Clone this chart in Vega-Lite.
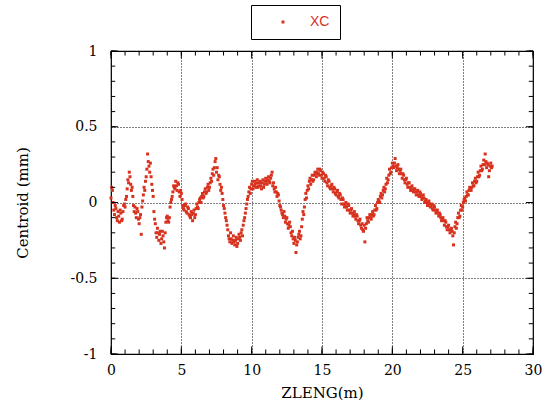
{"$schema":"https://vega.github.io/schema/vega-lite/v6.json","width":422,"height":303,"autosize":{"type":"none"},"padding":{"left":111,"top":51,"right":19,"bottom":54},"background":"white","config":{"view":{"stroke":"black","strokeWidth":1.2}},
"datasets":{
"xminor":[{"t":0},{"t":1},{"t":2},{"t":3},{"t":4},{"t":5},{"t":6},{"t":7},{"t":8},{"t":9},{"t":10},{"t":11},{"t":12},{"t":13},{"t":14},{"t":15},{"t":16},{"t":17},{"t":18},{"t":19},{"t":20},{"t":21},{"t":22},{"t":23},{"t":24},{"t":25},{"t":26},{"t":27},{"t":28},{"t":29},{"t":30}],
"xmajor":[{"t":0},{"t":5},{"t":10},{"t":15},{"t":20},{"t":25},{"t":30}],
"yminor":[{"t":-1},{"t":-0.9},{"t":-0.8},{"t":-0.7},{"t":-0.6},{"t":-0.5},{"t":-0.4},{"t":-0.3},{"t":-0.2},{"t":-0.1},{"t":0},{"t":0.1},{"t":0.2},{"t":0.3},{"t":0.4},{"t":0.5},{"t":0.6},{"t":0.7},{"t":0.8},{"t":0.9},{"t":1}],
"ymajor":[{"t":-1},{"t":-0.5},{"t":0},{"t":0.5},{"t":1}]
},
"layer":[
{"data":{"values":[
{"z":0.0,"xc":0.03},{"z":0.05,"xc":0.1},{"z":0.1,"xc":0.08},{"z":0.2,"xc":-0.05},{"z":0.3,"xc":-0.02},{"z":0.4,"xc":-0.1},{"z":0.5,"xc":-0.06},{"z":0.6,"xc":-0.13},{"z":0.7,"xc":-0.07},{"z":0.8,"xc":-0.11},{"z":0.9,"xc":-0.02},
{"z":1.0,"xc":-0.03},{"z":1.1,"xc":0.04},{"z":1.2,"xc":0.15},{"z":1.3,"xc":0.2},{"z":1.4,"xc":0.12},{"z":1.5,"xc":0.1},{"z":1.6,"xc":-0.02},{"z":1.7,"xc":-0.03},{"z":1.8,"xc":-0.1},{"z":1.9,"xc":-0.06},
{"z":2.0,"xc":-0.14},{"z":2.1,"xc":-0.08},{"z":2.15,"xc":-0.21},{"z":2.2,"xc":-0.03},{"z":2.3,"xc":0.05},{"z":2.4,"xc":0.08},{"z":2.5,"xc":0.17},{"z":2.6,"xc":0.32},{"z":2.7,"xc":0.24},{"z":2.8,"xc":0.26},{"z":2.9,"xc":0.12},
{"z":3.0,"xc":0.04},{"z":3.1,"xc":-0.11},{"z":3.2,"xc":-0.2},{"z":3.3,"xc":-0.17},{"z":3.4,"xc":-0.25},{"z":3.5,"xc":-0.19},{"z":3.6,"xc":-0.24},{"z":3.7,"xc":-0.22},{"z":3.8,"xc":-0.3},{"z":3.9,"xc":-0.13},
{"z":4.0,"xc":-0.09},{"z":4.1,"xc":-0.13},{"z":4.2,"xc":-0.03},{"z":4.3,"xc":0.02},{"z":4.4,"xc":0.07},{"z":4.5,"xc":0.1},{"z":4.6,"xc":0.14},{"z":4.7,"xc":0.08},{"z":4.8,"xc":0.12},{"z":4.9,"xc":0.04},
{"z":5.0,"xc":0.06},{"z":5.1,"xc":-0.02},{"z":5.2,"xc":-0.05},{"z":5.3,"xc":-0.01},{"z":5.4,"xc":-0.07},{"z":5.5,"xc":-0.04},{"z":5.6,"xc":-0.09},{"z":5.7,"xc":-0.06},{"z":5.8,"xc":-0.12},{"z":5.9,"xc":-0.05},
{"z":6.0,"xc":-0.08},{"z":6.1,"xc":-0.01},{"z":6.2,"xc":-0.04},{"z":6.3,"xc":0.02},{"z":6.4,"xc":0.0},{"z":6.5,"xc":0.06},{"z":6.6,"xc":0.04},{"z":6.7,"xc":0.09},{"z":6.8,"xc":0.07},{"z":6.9,"xc":0.12},
{"z":7.0,"xc":0.1},{"z":7.1,"xc":0.16},{"z":7.2,"xc":0.19},{"z":7.3,"xc":0.18},{"z":7.4,"xc":0.27},{"z":7.45,"xc":0.29},{"z":7.5,"xc":0.2},{"z":7.6,"xc":0.15},{"z":7.7,"xc":0.17},{"z":7.8,"xc":0.08},{"z":7.9,"xc":0.06},
{"z":8.0,"xc":-0.02},{"z":8.1,"xc":-0.07},{"z":8.2,"xc":-0.12},{"z":8.3,"xc":-0.18},{"z":8.4,"xc":-0.24},{"z":8.5,"xc":-0.2},{"z":8.6,"xc":-0.27},{"z":8.7,"xc":-0.22},{"z":8.8,"xc":-0.28},{"z":8.9,"xc":-0.23},
{"z":9.0,"xc":-0.27},{"z":9.1,"xc":-0.21},{"z":9.2,"xc":-0.25},{"z":9.3,"xc":-0.18},{"z":9.4,"xc":-0.15},{"z":9.5,"xc":-0.1},{"z":9.6,"xc":-0.04},{"z":9.7,"xc":0.02},{"z":9.8,"xc":0.07},{"z":9.9,"xc":0.06},
{"z":10.0,"xc":0.12},{"z":10.1,"xc":0.09},{"z":10.2,"xc":0.14},{"z":10.3,"xc":0.1},{"z":10.4,"xc":0.15},{"z":10.5,"xc":0.11},{"z":10.6,"xc":0.14},{"z":10.7,"xc":0.09},{"z":10.8,"xc":0.15},{"z":10.9,"xc":0.12},
{"z":11.0,"xc":0.16},{"z":11.1,"xc":0.12},{"z":11.2,"xc":0.17},{"z":11.3,"xc":0.13},{"z":11.4,"xc":0.18},{"z":11.45,"xc":0.2},{"z":11.5,"xc":0.11},{"z":11.6,"xc":0.09},{"z":11.7,"xc":0.1},{"z":11.8,"xc":0.04},{"z":11.9,"xc":0.05},
{"z":12.0,"xc":-0.02},{"z":12.1,"xc":-0.05},{"z":12.2,"xc":-0.08},{"z":12.3,"xc":-0.06},{"z":12.4,"xc":-0.13},{"z":12.5,"xc":-0.1},{"z":12.6,"xc":-0.17},{"z":12.7,"xc":-0.13},{"z":12.8,"xc":-0.2},{"z":12.9,"xc":-0.19},
{"z":13.0,"xc":-0.27},{"z":13.1,"xc":-0.25},{"z":13.15,"xc":-0.33},{"z":13.2,"xc":-0.28},{"z":13.3,"xc":-0.23},{"z":13.4,"xc":-0.19},{"z":13.5,"xc":-0.22},{"z":13.6,"xc":-0.11},{"z":13.7,"xc":-0.08},{"z":13.8,"xc":0.02},{"z":13.9,"xc":0.03},
{"z":14.0,"xc":0.11},{"z":14.1,"xc":0.14},{"z":14.2,"xc":0.12},{"z":14.3,"xc":0.18},{"z":14.4,"xc":0.15},{"z":14.5,"xc":0.2},{"z":14.6,"xc":0.17},{"z":14.7,"xc":0.22},{"z":14.8,"xc":0.18},{"z":14.9,"xc":0.21},
{"z":15.0,"xc":0.16},{"z":15.1,"xc":0.19},{"z":15.2,"xc":0.14},{"z":15.3,"xc":0.17},{"z":15.4,"xc":0.11},{"z":15.5,"xc":0.14},{"z":15.6,"xc":0.09},{"z":15.7,"xc":0.12},{"z":15.8,"xc":0.07},{"z":15.9,"xc":0.09},
{"z":16.0,"xc":0.05},{"z":16.1,"xc":0.08},{"z":16.2,"xc":0.03},{"z":16.3,"xc":0.05},{"z":16.4,"xc":-0.01},{"z":16.5,"xc":0.02},{"z":16.6,"xc":-0.03},{"z":16.7,"xc":0.0},{"z":16.8,"xc":-0.05},{"z":16.9,"xc":-0.02},
{"z":17.0,"xc":-0.07},{"z":17.1,"xc":-0.04},{"z":17.2,"xc":-0.09},{"z":17.3,"xc":-0.06},{"z":17.4,"xc":-0.11},{"z":17.5,"xc":-0.09},{"z":17.6,"xc":-0.14},{"z":17.7,"xc":-0.11},{"z":17.8,"xc":-0.17},{"z":17.9,"xc":-0.18},
{"z":18.0,"xc":-0.15},{"z":18.05,"xc":-0.26},{"z":18.1,"xc":-0.17},{"z":18.2,"xc":-0.1},{"z":18.3,"xc":-0.13},{"z":18.4,"xc":-0.08},{"z":18.5,"xc":-0.11},{"z":18.6,"xc":-0.06},{"z":18.7,"xc":-0.08},{"z":18.8,"xc":-0.02},{"z":18.9,"xc":-0.04},
{"z":19.0,"xc":0.02},{"z":19.1,"xc":0.0},{"z":19.2,"xc":0.06},{"z":19.3,"xc":0.05},{"z":19.4,"xc":0.1},{"z":19.5,"xc":0.09},{"z":19.6,"xc":0.16},{"z":19.7,"xc":0.15},{"z":19.8,"xc":0.22},{"z":19.9,"xc":0.2},
{"z":20.0,"xc":0.26},{"z":20.1,"xc":0.23},{"z":20.2,"xc":0.29},{"z":20.3,"xc":0.21},{"z":20.4,"xc":0.25},{"z":20.5,"xc":0.19},{"z":20.6,"xc":0.22},{"z":20.7,"xc":0.16},{"z":20.8,"xc":0.18},{"z":20.9,"xc":0.13},
{"z":21.0,"xc":0.16},{"z":21.1,"xc":0.1},{"z":21.2,"xc":0.13},{"z":21.3,"xc":0.08},{"z":21.4,"xc":0.11},{"z":21.5,"xc":0.07},{"z":21.6,"xc":0.09},{"z":21.7,"xc":0.05},{"z":21.8,"xc":0.08},{"z":21.9,"xc":0.04},
{"z":22.0,"xc":0.06},{"z":22.1,"xc":0.02},{"z":22.2,"xc":0.05},{"z":22.3,"xc":0.0},{"z":22.4,"xc":0.02},{"z":22.5,"xc":-0.02},{"z":22.6,"xc":0.01},{"z":22.7,"xc":-0.03},{"z":22.8,"xc":-0.01},{"z":22.9,"xc":-0.05},
{"z":23.0,"xc":-0.03},{"z":23.1,"xc":-0.07},{"z":23.2,"xc":-0.05},{"z":23.3,"xc":-0.09},{"z":23.4,"xc":-0.08},{"z":23.5,"xc":-0.12},{"z":23.6,"xc":-0.1},{"z":23.7,"xc":-0.15},{"z":23.8,"xc":-0.13},{"z":23.9,"xc":-0.18},
{"z":24.0,"xc":-0.15},{"z":24.1,"xc":-0.2},{"z":24.2,"xc":-0.17},{"z":24.3,"xc":-0.22},{"z":24.35,"xc":-0.28},{"z":24.4,"xc":-0.2},{"z":24.5,"xc":-0.13},{"z":24.6,"xc":-0.14},{"z":24.7,"xc":-0.07},{"z":24.8,"xc":-0.09},{"z":24.9,"xc":-0.02},
{"z":25.0,"xc":-0.03},{"z":25.1,"xc":0.02},{"z":25.2,"xc":0.01},{"z":25.3,"xc":0.07},{"z":25.4,"xc":0.05},{"z":25.5,"xc":0.1},{"z":25.6,"xc":0.08},{"z":25.7,"xc":0.13},{"z":25.8,"xc":0.11},{"z":25.9,"xc":0.16},
{"z":26.0,"xc":0.14},{"z":26.1,"xc":0.2},{"z":26.2,"xc":0.18},{"z":26.3,"xc":0.24},{"z":26.4,"xc":0.22},{"z":26.5,"xc":0.28},{"z":26.6,"xc":0.32},{"z":26.7,"xc":0.23},{"z":26.8,"xc":0.25},{"z":26.85,"xc":0.17},{"z":26.9,"xc":0.21},
{"z":27.0,"xc":0.26},{"z":27.1,"xc":0.24},
{"z":0.15,"xc":0.0},{"z":0.25,"xc":-0.08},{"z":0.35,"xc":-0.04},{"z":0.45,"xc":-0.12},{"z":0.55,"xc":-0.09},{"z":0.65,"xc":-0.05},{"z":0.75,"xc":-0.12},{"z":0.85,"xc":-0.06},{"z":0.95,"xc":-0.01},
{"z":1.05,"xc":0.02},{"z":1.15,"xc":0.09},{"z":1.25,"xc":0.13},{"z":1.35,"xc":0.17},{"z":1.45,"xc":0.08},{"z":1.55,"xc":0.04},{"z":1.65,"xc":-0.06},{"z":1.75,"xc":-0.07},{"z":1.85,"xc":-0.04},{"z":1.95,"xc":-0.11},
{"z":2.05,"xc":-0.1},{"z":2.25,"xc":0.01},{"z":2.35,"xc":0.1},{"z":2.45,"xc":0.14},{"z":2.55,"xc":0.22},{"z":2.65,"xc":0.27},{"z":2.75,"xc":0.2},{"z":2.85,"xc":0.17},{"z":2.95,"xc":0.08},
{"z":3.05,"xc":-0.06},{"z":3.15,"xc":-0.14},{"z":3.25,"xc":-0.23},{"z":3.35,"xc":-0.2},{"z":3.45,"xc":-0.21},{"z":3.55,"xc":-0.27},{"z":3.65,"xc":-0.19},{"z":3.75,"xc":-0.26},{"z":3.85,"xc":-0.2},{"z":3.95,"xc":-0.1},
{"z":4.05,"xc":-0.12},{"z":4.15,"xc":-0.1},{"z":4.25,"xc":0.0},{"z":4.35,"xc":0.04},{"z":4.45,"xc":0.11},{"z":4.55,"xc":0.09},{"z":4.65,"xc":0.11},{"z":4.75,"xc":0.13},{"z":4.85,"xc":0.07},{"z":4.95,"xc":0.08},
{"z":5.05,"xc":0.02},{"z":5.15,"xc":-0.04},{"z":5.25,"xc":-0.02},{"z":5.35,"xc":-0.06},{"z":5.45,"xc":-0.03},{"z":5.55,"xc":-0.08},{"z":5.65,"xc":-0.1},{"z":5.75,"xc":-0.08},{"z":5.85,"xc":-0.07},{"z":5.95,"xc":-0.1},
{"z":6.05,"xc":-0.04},{"z":6.15,"xc":-0.03},{"z":6.25,"xc":0.0},{"z":6.35,"xc":0.03},{"z":6.45,"xc":0.04},{"z":6.55,"xc":0.03},{"z":6.65,"xc":0.07},{"z":6.75,"xc":0.06},{"z":6.85,"xc":0.1},{"z":6.95,"xc":0.08},
{"z":7.05,"xc":0.13},{"z":7.15,"xc":0.14},{"z":7.25,"xc":0.22},{"z":7.35,"xc":0.23},{"z":7.55,"xc":0.23},{"z":7.65,"xc":0.18},{"z":7.75,"xc":0.12},{"z":7.85,"xc":0.1},{"z":7.95,"xc":0.02},
{"z":8.05,"xc":-0.04},{"z":8.15,"xc":-0.1},{"z":8.25,"xc":-0.15},{"z":8.35,"xc":-0.22},{"z":8.45,"xc":-0.26},{"z":8.55,"xc":-0.24},{"z":8.65,"xc":-0.25},{"z":8.75,"xc":-0.26},{"z":8.85,"xc":-0.25},{"z":8.95,"xc":-0.29},
{"z":9.05,"xc":-0.24},{"z":9.15,"xc":-0.23},{"z":9.25,"xc":-0.2},{"z":9.35,"xc":-0.22},{"z":9.45,"xc":-0.12},{"z":9.55,"xc":-0.07},{"z":9.65,"xc":-0.01},{"z":9.75,"xc":0.04},{"z":9.85,"xc":0.1},{"z":9.95,"xc":0.09},
{"z":10.05,"xc":0.14},{"z":10.15,"xc":0.11},{"z":10.25,"xc":0.12},{"z":10.35,"xc":0.13},{"z":10.45,"xc":0.1},{"z":10.55,"xc":0.13},{"z":10.65,"xc":0.11},{"z":10.75,"xc":0.13},{"z":10.85,"xc":0.1},{"z":10.95,"xc":0.14},
{"z":11.05,"xc":0.14},{"z":11.15,"xc":0.15},{"z":11.25,"xc":0.14},{"z":11.35,"xc":0.16},{"z":11.55,"xc":0.13},{"z":11.65,"xc":0.07},{"z":11.75,"xc":0.07},{"z":11.85,"xc":0.06},{"z":11.95,"xc":0.01},
{"z":12.05,"xc":-0.03},{"z":12.15,"xc":-0.07},{"z":12.25,"xc":-0.1},{"z":12.35,"xc":-0.09},{"z":12.45,"xc":-0.11},{"z":12.55,"xc":-0.14},{"z":12.65,"xc":-0.15},{"z":12.75,"xc":-0.16},{"z":12.85,"xc":-0.22},{"z":12.95,"xc":-0.24},
{"z":13.05,"xc":-0.23},{"z":13.25,"xc":-0.26},{"z":13.35,"xc":-0.21},{"z":13.45,"xc":-0.24},{"z":13.55,"xc":-0.16},{"z":13.65,"xc":-0.06},{"z":13.75,"xc":-0.03},{"z":13.85,"xc":0.06},{"z":13.95,"xc":0.08},
{"z":14.05,"xc":0.09},{"z":14.15,"xc":0.16},{"z":14.25,"xc":0.15},{"z":14.35,"xc":0.14},{"z":14.45,"xc":0.18},{"z":14.55,"xc":0.19},{"z":14.65,"xc":0.2},{"z":14.75,"xc":0.19},{"z":14.85,"xc":0.22},{"z":14.95,"xc":0.18},
{"z":15.05,"xc":0.2},{"z":15.15,"xc":0.16},{"z":15.25,"xc":0.18},{"z":15.35,"xc":0.13},{"z":15.45,"xc":0.15},{"z":15.55,"xc":0.1},{"z":15.65,"xc":0.11},{"z":15.75,"xc":0.09},{"z":15.85,"xc":0.1},{"z":15.95,"xc":0.06},
{"z":16.05,"xc":0.07},{"z":16.15,"xc":0.04},{"z":16.25,"xc":0.06},{"z":16.35,"xc":0.02},{"z":16.45,"xc":0.03},{"z":16.55,"xc":-0.01},{"z":16.65,"xc":-0.02},{"z":16.75,"xc":-0.03},{"z":16.85,"xc":-0.01},{"z":16.95,"xc":-0.05},
{"z":17.05,"xc":-0.05},{"z":17.15,"xc":-0.07},{"z":17.25,"xc":-0.08},{"z":17.35,"xc":-0.09},{"z":17.45,"xc":-0.08},{"z":17.55,"xc":-0.12},{"z":17.65,"xc":-0.12},{"z":17.75,"xc":-0.15},{"z":17.85,"xc":-0.14},{"z":17.95,"xc":-0.19},
{"z":18.15,"xc":-0.14},{"z":18.25,"xc":-0.12},{"z":18.35,"xc":-0.1},{"z":18.45,"xc":-0.1},{"z":18.55,"xc":-0.08},{"z":18.65,"xc":-0.09},{"z":18.75,"xc":-0.05},{"z":18.85,"xc":-0.05},{"z":18.95,"xc":0.0},
{"z":19.05,"xc":0.01},{"z":19.15,"xc":0.04},{"z":19.25,"xc":0.03},{"z":19.35,"xc":0.08},{"z":19.45,"xc":0.07},{"z":19.55,"xc":0.12},{"z":19.65,"xc":0.13},{"z":19.75,"xc":0.18},{"z":19.85,"xc":0.19},{"z":19.95,"xc":0.23},
{"z":20.05,"xc":0.24},{"z":20.15,"xc":0.26},{"z":20.25,"xc":0.24},{"z":20.35,"xc":0.23},{"z":20.45,"xc":0.22},{"z":20.55,"xc":0.21},{"z":20.65,"xc":0.19},{"z":20.75,"xc":0.19},{"z":20.85,"xc":0.15},{"z":20.95,"xc":0.15},
{"z":21.05,"xc":0.12},{"z":21.15,"xc":0.13},{"z":21.25,"xc":0.1},{"z":21.35,"xc":0.1},{"z":21.45,"xc":0.08},{"z":21.55,"xc":0.09},{"z":21.65,"xc":0.07},{"z":21.75,"xc":0.07},{"z":21.85,"xc":0.05},{"z":21.95,"xc":0.07},
{"z":22.05,"xc":0.04},{"z":22.15,"xc":0.03},{"z":22.25,"xc":0.03},{"z":22.35,"xc":0.01},{"z":22.45,"xc":0.0},{"z":22.55,"xc":0.0},{"z":22.65,"xc":-0.01},{"z":22.75,"xc":-0.02},{"z":22.85,"xc":-0.04},{"z":22.95,"xc":-0.02},
{"z":23.05,"xc":-0.05},{"z":23.15,"xc":-0.06},{"z":23.25,"xc":-0.07},{"z":23.35,"xc":-0.07},{"z":23.45,"xc":-0.1},{"z":23.55,"xc":-0.11},{"z":23.65,"xc":-0.12},{"z":23.75,"xc":-0.12},{"z":23.85,"xc":-0.16},{"z":23.95,"xc":-0.16},
{"z":24.05,"xc":-0.18},{"z":24.15,"xc":-0.18},{"z":24.25,"xc":-0.19},{"z":24.45,"xc":-0.16},{"z":24.55,"xc":-0.17},{"z":24.65,"xc":-0.1},{"z":24.75,"xc":-0.1},{"z":24.85,"xc":-0.05},{"z":24.95,"xc":-0.05},
{"z":25.05,"xc":0.0},{"z":25.15,"xc":0.03},{"z":25.25,"xc":0.04},{"z":25.35,"xc":0.05},{"z":25.45,"xc":0.08},{"z":25.55,"xc":0.09},{"z":25.65,"xc":0.1},{"z":25.75,"xc":0.11},{"z":25.85,"xc":0.14},{"z":25.95,"xc":0.13},
{"z":26.05,"xc":0.17},{"z":26.15,"xc":0.17},{"z":26.25,"xc":0.21},{"z":26.35,"xc":0.21},{"z":26.45,"xc":0.25},{"z":26.55,"xc":0.25},{"z":26.65,"xc":0.27},{"z":26.75,"xc":0.26},{"z":26.95,"xc":0.24},{"z":27.05,"xc":0.23}
]},
"mark":{"type":"square","size":9,"opacity":1},
"encoding":{
"x":{"field":"z","type":"quantitative","scale":{"domain":[0,30],"nice":false},"axis":{"orient":"bottom","values":[0,5,10,15,20,25,30],"labelFlush":false,"grid":true,"gridColor":"black","gridDash":[1,2],"gridOpacity":1,"ticks":false,"domain":false,"labelPadding":9,"labelFont":"DejaVu Serif","labelFontSize":14,"labelColor":"black","title":"ZLENG(m)","titleFont":"DejaVu Serif","titleFontSize":15,"titleFontWeight":"normal","titleColor":"black","titlePadding":8}},
"y":{"field":"xc","type":"quantitative","scale":{"domain":[-1,1],"nice":false},"axis":{"orient":"left","values":[-1,-0.5,0,0.5,1],"labelExpr":"'' + datum.value","labelFlush":false,"grid":true,"gridColor":"black","gridDash":[1,2],"gridOpacity":1,"ticks":false,"domain":false,"labelPadding":14,"labelFont":"DejaVu Serif","labelFontSize":14,"labelColor":"black","title":"Centroid (mm)","titleFont":"DejaVu Serif","titleFontSize":15,"titleFontWeight":"normal","titleColor":"black","titlePadding":40}},
"color":{"datum":"XC","type":"nominal","scale":{"range":["#d8321f"]},"legend":{"title":null,"orient":"none","legendX":140,"legendY":-46,"fillColor":"white","strokeColor":"black","padding":10,"symbolType":"square","symbolSize":9,"symbolOffset":15,"labelOffset":20,"labelColor":"#d8321f","labelFont":"Liberation Sans","labelFontSize":14}}
}},
{"data":{"name":"xminor"},"mark":{"type":"rule","color":"black","strokeWidth":1},"encoding":{"x":{"field":"t","type":"quantitative"},"y":{"datum":-1},"y2":{"datum":-0.97}}},
{"data":{"name":"xminor"},"mark":{"type":"rule","color":"black","strokeWidth":1},"encoding":{"x":{"field":"t","type":"quantitative"},"y":{"datum":1},"y2":{"datum":0.97}}},
{"data":{"name":"xmajor"},"mark":{"type":"rule","color":"black","strokeWidth":1},"encoding":{"x":{"field":"t","type":"quantitative"},"y":{"datum":-1},"y2":{"datum":-0.95}}},
{"data":{"name":"xmajor"},"mark":{"type":"rule","color":"black","strokeWidth":1},"encoding":{"x":{"field":"t","type":"quantitative"},"y":{"datum":1},"y2":{"datum":0.95}}},
{"data":{"name":"yminor"},"mark":{"type":"rule","color":"black","strokeWidth":1},"encoding":{"y":{"field":"t","type":"quantitative"},"x":{"datum":0},"x2":{"datum":0.3}}},
{"data":{"name":"yminor"},"mark":{"type":"rule","color":"black","strokeWidth":1},"encoding":{"y":{"field":"t","type":"quantitative"},"x":{"datum":30},"x2":{"datum":29.7}}},
{"data":{"name":"ymajor"},"mark":{"type":"rule","color":"black","strokeWidth":1},"encoding":{"y":{"field":"t","type":"quantitative"},"x":{"datum":0},"x2":{"datum":0.5}}},
{"data":{"name":"ymajor"},"mark":{"type":"rule","color":"black","strokeWidth":1},"encoding":{"y":{"field":"t","type":"quantitative"},"x":{"datum":30},"x2":{"datum":29.5}}}
]}
